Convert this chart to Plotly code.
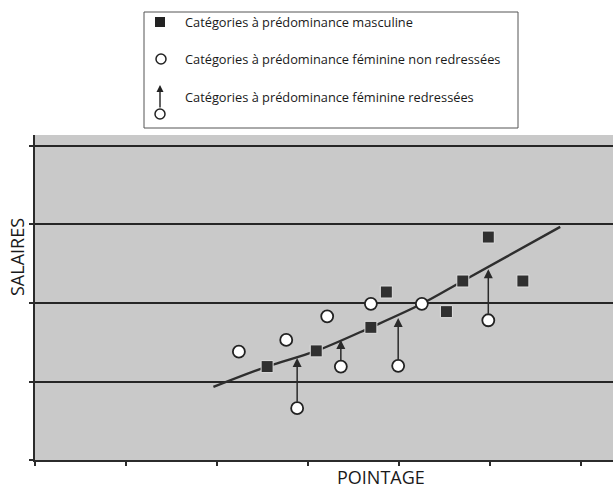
import plotly.graph_objects as go

# ---- data (arbitrary units) ----
masc_x = [2.55, 3.09, 3.69, 3.86, 4.52, 4.70, 4.98, 5.36]
masc_y = [1.19, 1.39, 1.69, 2.14, 1.89, 2.28, 2.84, 2.28]

fem_non_x = [2.24, 2.76, 3.21, 3.69, 4.25]
fem_non_y = [1.38, 1.53, 1.83, 1.99, 1.99]

fem_red_x = [2.88, 3.36, 3.99, 4.98]
fem_red_before = [0.66, 1.19, 1.20, 1.78]
fem_red_after = [1.30, 1.53, 1.81, 2.43]

trend_x = [1.96, 2.55, 3.09, 3.69, 4.25, 4.70, 5.77]
trend_y = [0.93, 1.19, 1.39, 1.69, 1.99, 2.28, 2.97]

x_ticks = [0, 1, 2, 3, 4, 5, 6]
y_ticks = [0, 1, 2, 3, 4]

legend_labels = [
    "Catégories à prédominance masculine",
    "Catégories à prédominance féminine non redressées",
    "Catégories à prédominance féminine redressées",
]

FONT = "Open Sans"
DARK = "#2b2b2b"

fig = go.Figure()

fig.add_trace(go.Scatter(
    x=trend_x, y=trend_y, mode="lines", line=dict(color="#2e2e2e", width=2.4, shape="spline"),
    showlegend=False, hoverinfo="skip"))

fig.add_trace(go.Scatter(
    x=masc_x, y=masc_y, mode="markers",
    marker=dict(symbol="square", size=12, color="#303030", line=dict(color="#e0e0e0", width=1)),
    showlegend=False, name=legend_labels[0]))

fig.add_trace(go.Scatter(
    x=fem_non_x, y=fem_non_y, mode="markers",
    marker=dict(symbol="circle", size=12, color="white", line=dict(color="#222222", width=1.8)),
    showlegend=False, name=legend_labels[1]))

# arrows for redressed categories
for xv, y0, y1 in zip(fem_red_x, fem_red_before, fem_red_after):
    fig.add_annotation(x=xv, y=y1, ax=xv, ay=y0, xref="x", yref="y", axref="x", ayref="y",
                       showarrow=True, arrowhead=2, arrowsize=1.2, arrowwidth=1.5,
                       arrowcolor="#2a2a2a", standoff=0, startstandoff=5, text="")

fig.add_trace(go.Scatter(
    x=fem_red_x, y=fem_red_before, mode="markers",
    marker=dict(symbol="circle", size=12, color="white", line=dict(color="#222222", width=1.8)),
    showlegend=False, name=legend_labels[2]))


def px(xp):
    return (xp - 35) / 578


def py(yp):
    return (460 - yp) / 325


# ---- custom legend box ----
fig.add_shape(type="rect", xref="paper", yref="paper",
              x0=px(144), x1=px(518), y0=py(128), y1=py(12),
              line=dict(color="#555555", width=1), fillcolor="white", layer="above")

# square glyph
fig.add_shape(type="rect", xref="paper", yref="paper",
              x0=px(155), x1=px(165), y0=py(27), y1=py(17),
              fillcolor="#222222", line=dict(width=0), layer="above")
# circle glyph
fig.add_shape(type="circle", xref="paper", yref="paper",
              x0=px(156), x1=px(166), y0=py(64), y1=py(54),
              fillcolor="white", line=dict(color="#222222", width=1.5), layer="above")
# arrow glyph
fig.add_shape(type="circle", xref="paper", yref="paper",
              x0=px(155), x1=px(165), y0=py(119), y1=py(109),
              fillcolor="white", line=dict(color="#222222", width=1.5), layer="above")
fig.add_annotation(x=px(160), y=py(85), ax=0, ay=24, xref="paper", yref="paper",
                   axref="pixel", ayref="pixel", showarrow=True, arrowhead=2, arrowsize=1,
                   arrowwidth=1.4, arrowcolor="#222222", standoff=0, text="")

for label, yp in zip(legend_labels, [22, 59, 97]):
    fig.add_annotation(x=px(183), y=py(yp), xref="paper", yref="paper", text=label,
                       showarrow=False, xanchor="left", yanchor="middle",
                       font=dict(family=FONT, size=12.8, color="#1a1a1a"))

# axis titles
fig.add_annotation(x=px(381), y=py(477), xref="paper", yref="paper", text="POINTAGE",
                   showarrow=False, xanchor="center", yanchor="middle",
                   font=dict(family=FONT, size=18, color="#1a1a1a"))
fig.add_annotation(x=px(17), y=py(257), xref="paper", yref="paper", text="SALAIRES",
                   showarrow=False, xanchor="center", yanchor="middle", textangle=-90,
                   font=dict(family=FONT, size=18, color="#1a1a1a"))

fig.update_layout(
    width=613, height=491,
    margin=dict(l=35, r=0, t=135, b=31),
    paper_bgcolor="white", plot_bgcolor="#c9c9c9",
    showlegend=False,
    font=dict(family=FONT),
    xaxis=dict(range=[0, 6.35], tickvals=x_ticks, showticklabels=False, ticks="outside",
               ticklen=4, tickcolor=DARK, tickwidth=1.5, showgrid=False, zeroline=False,
               showline=True, linecolor=DARK, linewidth=2),
    yaxis=dict(range=[0, 4.14], tickvals=y_ticks, showticklabels=False, ticks="outside",
               ticklen=4, tickcolor=DARK, tickwidth=1.5, showgrid=True, gridcolor="#262626",
               gridwidth=1.6, zeroline=False, showline=True, linecolor=DARK, linewidth=2),
)

fig.write_html(
    "out.html",
    config={"displayModeBar": False},
    post_script="document.body.style.margin='0';document.body.style.overflow='hidden';",
)
